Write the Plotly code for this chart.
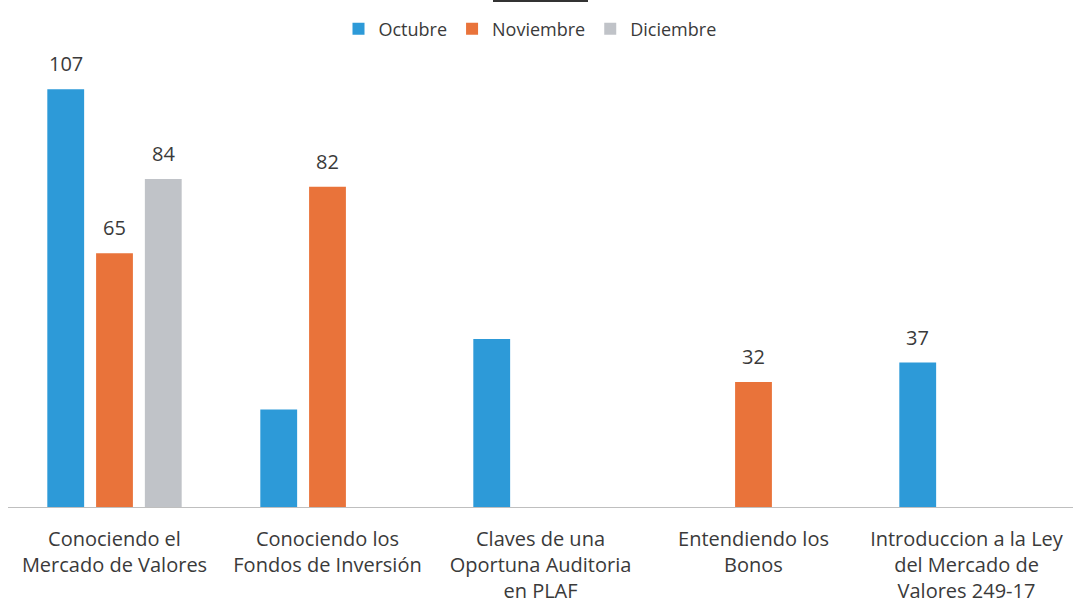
import plotly.graph_objects as go

categories = [
    "Conociendo el<br>Mercado de Valores",
    "Conociendo los<br>Fondos de Inversión",
    "Claves de una<br>Oportuna Auditoria<br>en PLAF",
    "Entendiendo los<br>Bonos",
    "Introduccion a la Ley<br>del Mercado de<br>Valores 249-17",
]
series_names = ["Octubre", "Noviembre", "Diciembre"]
octubre = [107, 25, 43, None, 37]
noviembre = [65, 82, None, 32, None]
diciembre = [84, None, None, None, None]
octubre_lbl = [True, False, False, False, True]
noviembre_lbl = [True, True, False, True, False]
diciembre_lbl = [True, False, False, False, False]

colors = ["#2D9AD8", "#E9733A", "#C0C3C8"]
values = [octubre, noviembre, diciembre]
labels = [octubre_lbl, noviembre_lbl, diciembre_lbl]

FONT = "Open Sans"
TXT = "#3A3A3A"
L, R, T, B = 8, 0, 58, 97
PW, PH = 1073 - L - R, 604 - T - B

fig = go.Figure()
for name, vals, col in zip(series_names, values, colors):
    fig.add_trace(go.Bar(x=categories, y=vals, name=name, marker=dict(color=col, line=dict(width=0))))

offsets = [-49, 0, 49]
for vals, lbls, off in zip(values, labels, offsets):
    for c, v, show in zip(categories, vals, lbls):
        if show and v is not None:
            fig.add_annotation(x=c, y=v, xref="x", yref="y", text=str(v), showarrow=False,
                               xshift=off, yanchor="bottom", yshift=10,
                               font=dict(family=FONT, size=20, color=TXT))

fig.add_shape(type="line", xref="paper", yref="paper", x0=(493 - L) / PW, x1=(588 - L) / PW,
              y0=(PH + T - 1) / PH, y1=(PH + T - 1) / PH, line=dict(color="#333333", width=2))

fig.update_layout(
    width=1073, height=604,
    margin=dict(l=L, r=R, t=T, b=B),
    paper_bgcolor="white", plot_bgcolor="white",
    barmode="group", bargap=0.313, bargroupgap=0.245,
    showlegend=True,
    legend=dict(orientation="h", x=(530 - L) / PW, xanchor="center", y=(PH + T - 29) / PH, yanchor="middle",
                font=dict(family=FONT, size=18, color=TXT), itemwidth=30, traceorder="normal"),
    font=dict(family=FONT, color=TXT),
)
fig.update_xaxes(showline=True, linecolor="#BFBFBF", linewidth=1, ticks="", showgrid=False,
                 tickfont=dict(family=FONT, size=20, color=TXT), ticklabelstandoff=14)
fig.update_yaxes(range=[0, 115], visible=False, showgrid=False)

fig.write_html("out.html")
